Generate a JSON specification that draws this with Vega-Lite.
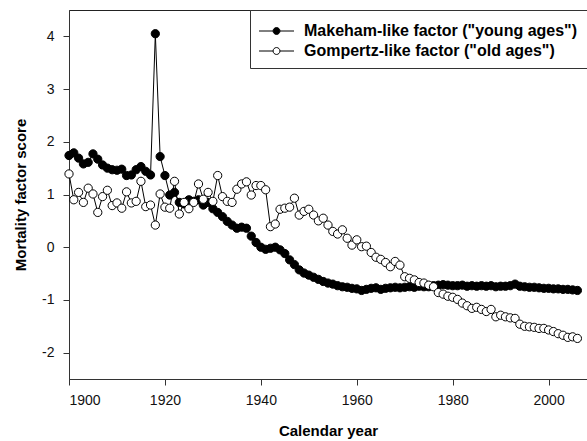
{
  "$schema": "https://vega.github.io/schema/vega-lite/v6.json",
  "width": 518,
  "height": 369,
  "autosize": {"type": "none"},
  "padding": {"left": 69, "top": 10, "right": 0, "bottom": 62},
  "background": "white",
  "config": {
    "font": "Liberation Sans",
    "view": {"stroke": "#222", "strokeWidth": 1},
    "axis": {
      "grid": false,
      "domainColor": "#333",
      "tickColor": "#333",
      "tickSize": 6,
      "labelFont": "Liberation Sans",
      "labelFontSize": 14,
      "labelColor": "#111",
      "titleFont": "Liberation Sans",
      "titleFontSize": 15,
      "titleFontWeight": "bold",
      "titleColor": "#000"
    }
  },
  "data": {"values": [
    {"year":1900,"factor":"M","score":1.74},{"year":1901,"factor":"M","score":1.79},{"year":1902,"factor":"M","score":1.69},{"year":1903,"factor":"M","score":1.58},{"year":1904,"factor":"M","score":1.61},{"year":1905,"factor":"M","score":1.77},{"year":1906,"factor":"M","score":1.67},{"year":1907,"factor":"M","score":1.56},{"year":1908,"factor":"M","score":1.50},{"year":1909,"factor":"M","score":1.47},
    {"year":1910,"factor":"M","score":1.46},{"year":1911,"factor":"M","score":1.48},{"year":1912,"factor":"M","score":1.36},{"year":1913,"factor":"M","score":1.37},{"year":1914,"factor":"M","score":1.47},{"year":1915,"factor":"M","score":1.53},{"year":1916,"factor":"M","score":1.44},{"year":1917,"factor":"M","score":1.37},{"year":1918,"factor":"M","score":4.05},{"year":1919,"factor":"M","score":1.72},
    {"year":1920,"factor":"M","score":1.36},{"year":1921,"factor":"M","score":0.99},{"year":1922,"factor":"M","score":1.04},{"year":1923,"factor":"M","score":0.85},{"year":1924,"factor":"M","score":0.82},{"year":1925,"factor":"M","score":0.90},{"year":1926,"factor":"M","score":0.87},{"year":1927,"factor":"M","score":0.90},{"year":1928,"factor":"M","score":0.80},{"year":1929,"factor":"M","score":0.85},
    {"year":1930,"factor":"M","score":0.73},{"year":1931,"factor":"M","score":0.66},{"year":1932,"factor":"M","score":0.58},{"year":1933,"factor":"M","score":0.49},{"year":1934,"factor":"M","score":0.42},{"year":1935,"factor":"M","score":0.36},{"year":1936,"factor":"M","score":0.38},{"year":1937,"factor":"M","score":0.36},{"year":1938,"factor":"M","score":0.21},{"year":1939,"factor":"M","score":0.09},
    {"year":1940,"factor":"M","score":0.00},{"year":1941,"factor":"M","score":-0.04},{"year":1942,"factor":"M","score":-0.02},{"year":1943,"factor":"M","score":0.00},{"year":1944,"factor":"M","score":-0.05},{"year":1945,"factor":"M","score":-0.12},{"year":1946,"factor":"M","score":-0.24},{"year":1947,"factor":"M","score":-0.33},{"year":1948,"factor":"M","score":-0.43},{"year":1949,"factor":"M","score":-0.49},
    {"year":1950,"factor":"M","score":-0.53},{"year":1951,"factor":"M","score":-0.57},{"year":1952,"factor":"M","score":-0.61},{"year":1953,"factor":"M","score":-0.65},{"year":1954,"factor":"M","score":-0.68},{"year":1955,"factor":"M","score":-0.70},{"year":1956,"factor":"M","score":-0.73},{"year":1957,"factor":"M","score":-0.75},{"year":1958,"factor":"M","score":-0.76},{"year":1959,"factor":"M","score":-0.78},
    {"year":1960,"factor":"M","score":-0.79},{"year":1961,"factor":"M","score":-0.82},{"year":1962,"factor":"M","score":-0.80},{"year":1963,"factor":"M","score":-0.78},{"year":1964,"factor":"M","score":-0.77},{"year":1965,"factor":"M","score":-0.80},{"year":1966,"factor":"M","score":-0.78},{"year":1967,"factor":"M","score":-0.77},{"year":1968,"factor":"M","score":-0.76},{"year":1969,"factor":"M","score":-0.77},
    {"year":1970,"factor":"M","score":-0.76},{"year":1971,"factor":"M","score":-0.75},{"year":1972,"factor":"M","score":-0.76},{"year":1973,"factor":"M","score":-0.74},{"year":1974,"factor":"M","score":-0.75},{"year":1975,"factor":"M","score":-0.75},{"year":1976,"factor":"M","score":-0.73},{"year":1977,"factor":"M","score":-0.72},{"year":1978,"factor":"M","score":-0.71},{"year":1979,"factor":"M","score":-0.72},
    {"year":1980,"factor":"M","score":-0.73},{"year":1981,"factor":"M","score":-0.73},{"year":1982,"factor":"M","score":-0.72},{"year":1983,"factor":"M","score":-0.74},{"year":1984,"factor":"M","score":-0.73},{"year":1985,"factor":"M","score":-0.74},{"year":1986,"factor":"M","score":-0.73},{"year":1987,"factor":"M","score":-0.74},{"year":1988,"factor":"M","score":-0.73},{"year":1989,"factor":"M","score":-0.75},
    {"year":1990,"factor":"M","score":-0.74},{"year":1991,"factor":"M","score":-0.74},{"year":1992,"factor":"M","score":-0.73},{"year":1993,"factor":"M","score":-0.70},{"year":1994,"factor":"M","score":-0.74},{"year":1995,"factor":"M","score":-0.75},{"year":1996,"factor":"M","score":-0.76},{"year":1997,"factor":"M","score":-0.76},{"year":1998,"factor":"M","score":-0.77},{"year":1999,"factor":"M","score":-0.78},
    {"year":2000,"factor":"M","score":-0.78},{"year":2001,"factor":"M","score":-0.79},{"year":2002,"factor":"M","score":-0.79},{"year":2003,"factor":"M","score":-0.80},{"year":2004,"factor":"M","score":-0.80},{"year":2005,"factor":"M","score":-0.81},{"year":2006,"factor":"M","score":-0.82},
    {"year":1900,"factor":"G","score":1.39},{"year":1901,"factor":"G","score":0.90},{"year":1902,"factor":"G","score":1.04},{"year":1903,"factor":"G","score":0.85},{"year":1904,"factor":"G","score":1.12},{"year":1905,"factor":"G","score":1.01},{"year":1906,"factor":"G","score":0.66},{"year":1907,"factor":"G","score":0.96},{"year":1908,"factor":"G","score":1.08},{"year":1909,"factor":"G","score":0.79},
    {"year":1910,"factor":"G","score":0.84},{"year":1911,"factor":"G","score":0.74},{"year":1912,"factor":"G","score":1.05},{"year":1913,"factor":"G","score":0.84},{"year":1914,"factor":"G","score":0.87},{"year":1915,"factor":"G","score":1.25},{"year":1916,"factor":"G","score":0.77},{"year":1917,"factor":"G","score":0.80},{"year":1918,"factor":"G","score":0.42},{"year":1919,"factor":"G","score":1.01},
    {"year":1920,"factor":"G","score":0.76},{"year":1921,"factor":"G","score":0.74},{"year":1922,"factor":"G","score":1.25},{"year":1923,"factor":"G","score":0.63},{"year":1924,"factor":"G","score":0.85},{"year":1925,"factor":"G","score":0.73},{"year":1926,"factor":"G","score":0.85},{"year":1927,"factor":"G","score":1.20},{"year":1928,"factor":"G","score":0.91},{"year":1929,"factor":"G","score":1.04},
    {"year":1930,"factor":"G","score":0.87},{"year":1931,"factor":"G","score":1.36},{"year":1932,"factor":"G","score":0.96},{"year":1933,"factor":"G","score":0.87},{"year":1934,"factor":"G","score":0.85},{"year":1935,"factor":"G","score":1.10},{"year":1936,"factor":"G","score":1.20},{"year":1937,"factor":"G","score":1.24},{"year":1938,"factor":"G","score":0.99},{"year":1939,"factor":"G","score":1.17},
    {"year":1940,"factor":"G","score":1.17},{"year":1941,"factor":"G","score":1.09},{"year":1942,"factor":"G","score":0.39},{"year":1943,"factor":"G","score":0.44},{"year":1944,"factor":"G","score":0.72},{"year":1945,"factor":"G","score":0.74},{"year":1946,"factor":"G","score":0.76},{"year":1947,"factor":"G","score":0.93},{"year":1948,"factor":"G","score":0.61},{"year":1949,"factor":"G","score":0.68},
    {"year":1950,"factor":"G","score":0.72},{"year":1951,"factor":"G","score":0.61},{"year":1952,"factor":"G","score":0.50},{"year":1953,"factor":"G","score":0.55},{"year":1954,"factor":"G","score":0.42},{"year":1955,"factor":"G","score":0.30},{"year":1956,"factor":"G","score":0.25},{"year":1957,"factor":"G","score":0.33},{"year":1958,"factor":"G","score":0.17},{"year":1959,"factor":"G","score":0.04},
    {"year":1960,"factor":"G","score":0.14},{"year":1961,"factor":"G","score":0.01},{"year":1962,"factor":"G","score":0.02},{"year":1963,"factor":"G","score":-0.10},{"year":1964,"factor":"G","score":-0.19},{"year":1965,"factor":"G","score":-0.23},{"year":1966,"factor":"G","score":-0.29},{"year":1967,"factor":"G","score":-0.37},{"year":1968,"factor":"G","score":-0.27},{"year":1969,"factor":"G","score":-0.34},
    {"year":1970,"factor":"G","score":-0.56},{"year":1971,"factor":"G","score":-0.59},{"year":1972,"factor":"G","score":-0.62},{"year":1973,"factor":"G","score":-0.67},{"year":1974,"factor":"G","score":-0.68},{"year":1975,"factor":"G","score":-0.72},{"year":1976,"factor":"G","score":-0.75},{"year":1977,"factor":"G","score":-0.86},{"year":1978,"factor":"G","score":-0.89},{"year":1979,"factor":"G","score":-0.93},
    {"year":1980,"factor":"G","score":-0.95},{"year":1981,"factor":"G","score":-0.99},{"year":1982,"factor":"G","score":-1.06},{"year":1983,"factor":"G","score":-1.11},{"year":1984,"factor":"G","score":-1.16},{"year":1985,"factor":"G","score":-1.14},{"year":1986,"factor":"G","score":-1.18},{"year":1987,"factor":"G","score":-1.22},{"year":1988,"factor":"G","score":-1.18},{"year":1989,"factor":"G","score":-1.32},
    {"year":1990,"factor":"G","score":-1.29},{"year":1991,"factor":"G","score":-1.32},{"year":1992,"factor":"G","score":-1.34},{"year":1993,"factor":"G","score":-1.35},{"year":1994,"factor":"G","score":-1.46},{"year":1995,"factor":"G","score":-1.50},{"year":1996,"factor":"G","score":-1.51},{"year":1997,"factor":"G","score":-1.52},{"year":1998,"factor":"G","score":-1.54},{"year":1999,"factor":"G","score":-1.54},
    {"year":2000,"factor":"G","score":-1.57},{"year":2001,"factor":"G","score":-1.60},{"year":2002,"factor":"G","score":-1.64},{"year":2003,"factor":"G","score":-1.67},{"year":2004,"factor":"G","score":-1.71},{"year":2005,"factor":"G","score":-1.70},{"year":2006,"factor":"G","score":-1.73}
  ]},
  "encoding": {
    "x": {
      "field": "year", "type": "quantitative",
      "scale": {"domain": [1900, 2008], "nice": false, "zero": false},
      "axis": {"values": [1900, 1920, 1940, 1960, 1980, 2000], "labelExpr": "toString(datum.value)", "title": "Calendar year", "labelPadding": 8, "titlePadding": 16}
    },
    "y": {
      "field": "score", "type": "quantitative",
      "scale": {"domain": [-2.5, 4.5], "nice": false, "zero": false},
      "axis": {"values": [-2, -1, 0, 1, 2, 3, 4], "labelExpr": "toString(datum.value)", "title": "Mortality factor score", "labelPadding": 9, "titlePadding": 13}
    }
  },
  "layer": [
    {
      "mark": {"type": "line", "color": "#000", "strokeWidth": 1},
      "encoding": {"detail": {"field": "factor"}}
    },
    {
      "mark": {"type": "point", "shape": "circle", "filled": true, "stroke": "#000", "strokeWidth": 1, "size": 68, "opacity": 1},
      "encoding": {
        "fill": {
          "field": "factor", "type": "nominal",
          "scale": {"domain": ["M", "G"], "range": ["#000", "#fff"]},
          "legend": {
            "title": null,
            "orient": "top-right",
            "offset": 0,
            "padding": 9,
            "strokeColor": "#333",
            "fillColor": "white",
            "symbolType": "M-1.04,0L0.18,0M0.78,0L2,0M0.78,0A0.3,0.3,0,1,1,0.18,0A0.3,0.3,0,1,1,0.78,0Z",
            "symbolSize": 529,
            "symbolStrokeColor": "#000",
            "symbolStrokeWidth": 1,
            "labelFont": "Liberation Sans",
            "labelFontSize": 16,
            "labelFontWeight": "bold",
            "labelColor": "#000",
            "labelOffset": 21,
            "labelLimit": 500,
            "rowPadding": 0,
            "labelExpr": "datum.label == 'M' ? 'Makeham-like factor (\"young ages\")' : 'Gompertz-like factor (\"old ages\")'"
          }
        }
      }
    }
  ]
}
